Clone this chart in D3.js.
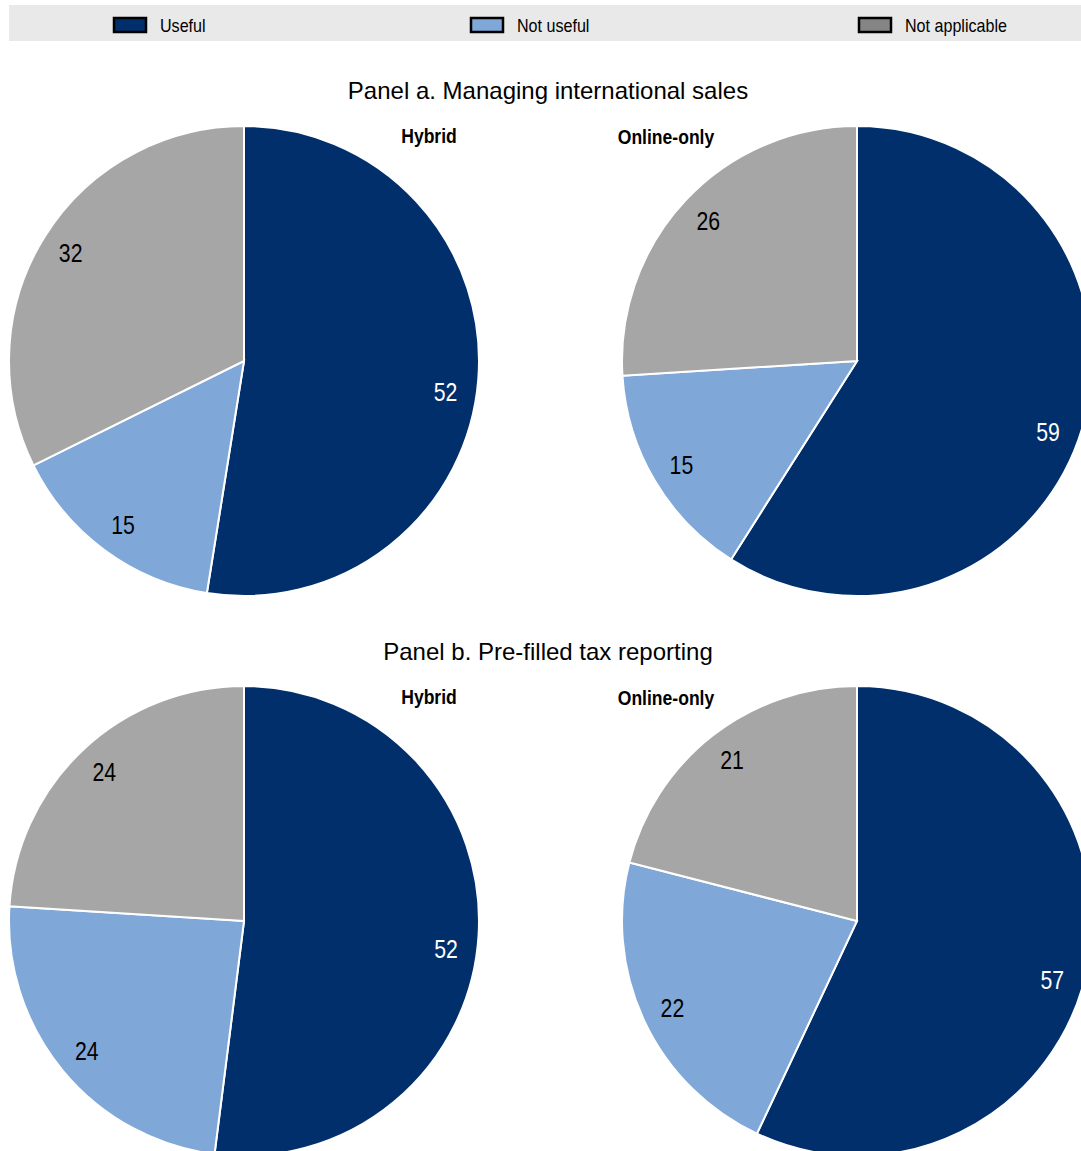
<!DOCTYPE html>
<html>
<head>
<meta charset="utf-8">
<script src="https://cdn.jsdelivr.net/npm/d3@7"></script>
<style>
  html, body { margin: 0; padding: 0; background: #fff; }
  svg { display: block; }
  text { font-family: "Liberation Sans", Arial, sans-serif; }
</style>
</head>
<body>
<svg id="chart" width="1081" height="1151"></svg>
<script>
// Survey answers (% of firms) by category
const categories = ["Useful", "Not useful", "Not applicable"];
const panelTitles = ["Panel a. Managing international sales", "Panel b. Pre-filled tax reporting"];
const groups = ["Hybrid", "Online-only"];
const panelA_hybrid = [52, 15, 32];
const panelA_online = [59, 15, 26];
const panelB_hybrid = [52, 24, 24];
const panelB_online = [57, 22, 21];

const colors = d3.scaleOrdinal().domain(categories).range(["#002F6C", "#7FA7D8", "#A6A6A6"]);
const swatchColors = d3.scaleOrdinal().domain(categories).range(["#002F6C", "#7FA7D8", "#858585"]);
const labelColors = d3.scaleOrdinal().domain(categories).range(["#ffffff", "#000000", "#000000"]);
// small angular nudge of the value labels (radians)
const labelNudge = d3.scaleOrdinal().domain(categories).range([0.075, 0, 0]);

const svg = d3.select("#chart");

// Legend band
const legend = svg.append("g");
legend.append("rect").attr("x", 9).attr("y", 5).attr("width", 1072).attr("height", 36).attr("fill", "#E9E9E9");
const legendX = d3.scaleOrdinal().domain(categories).range([113, 470, 858]);
const legendItem = legend.selectAll("g.item").data(categories).enter().append("g")
  .attr("class", "item")
  .attr("transform", d => `translate(${legendX(d)},17)`);
legendItem.append("rect")
  .attr("x", 1).attr("y", 1).attr("width", 32).attr("height", 14)
  .attr("fill", d => swatchColors(d)).attr("stroke", "#000").attr("stroke-width", 2.5);
legendItem.append("text")
  .attr("transform", "translate(47,15) scale(0.92,1)")
  .attr("font-size", 17.5).attr("fill", "#000")
  .text(d => d);

const panels = [
  { title: panelTitles[0], titleY: 99, groupY: 143, cy: 361, series: [panelA_hybrid, panelA_online] },
  { title: panelTitles[1], titleY: 660, groupY: 704, cy: 921, series: [panelB_hybrid, panelB_online] }
];
const centersX = [244, 857];
const groupLabelX = [429, 666];
const R = 235;
const labelR = 204;

const pie = d3.pie().sort(null).value(d => d.value);
const arc = d3.arc().innerRadius(0).outerRadius(R);

function labelPos(d) {
  const a = (d.startAngle + d.endAngle) / 2 + labelNudge(d.data.cat);
  return [labelR * Math.sin(a), -labelR * Math.cos(a)];
}

panels.forEach(p => {
  p.series.forEach((vals, i) => {
    const data = vals.map((v, k) => ({ cat: categories[k], value: v }));
    const g = svg.append("g").attr("transform", `translate(${centersX[i]},${p.cy})`);
    const arcs = pie(data);
    g.selectAll("path").data(arcs).enter().append("path")
      .attr("d", arc)
      .attr("fill", d => colors(d.data.cat))
      .attr("stroke", "#fff").attr("stroke-width", 2);
    g.selectAll("text").data(arcs).enter().append("text")
      .attr("transform", d => `translate(${labelPos(d)}) scale(0.85,1)`)
      .attr("text-anchor", "middle").attr("dy", "0.36em")
      .attr("font-size", 25)
      .attr("fill", d => labelColors(d.data.cat))
      .text(d => d.data.value);
  });
  svg.append("text")
    .attr("x", 548).attr("y", p.titleY)
    .attr("text-anchor", "middle").attr("font-size", 24).attr("fill", "#000")
    .text(p.title);
  groups.forEach((gname, i) => {
    svg.append("text")
      .attr("transform", `translate(${groupLabelX[i]},${p.groupY + (i ? 1 : 0)}) scale(0.9,1)`)
      .attr("text-anchor", "middle").attr("font-size", 19.5).attr("font-weight", "bold").attr("fill", "#000")
      .text(gname);
  });
});
</script>
</body>
</html>
